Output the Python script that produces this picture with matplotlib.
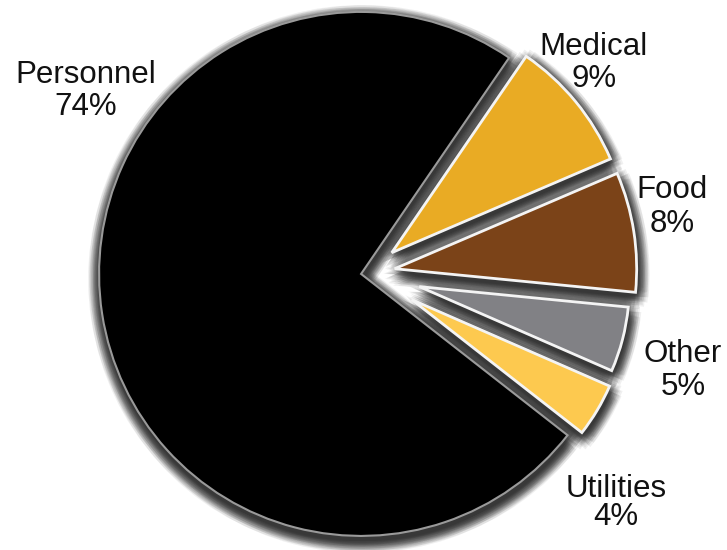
import matplotlib
matplotlib.use("Agg")
import matplotlib.pyplot as plt
import matplotlib.patheffects as pe
import numpy as np

# Budget shares
categories = ["Personnel", "Medical", "Food", "Other", "Utilities"]
shares = [74, 9, 8, 5, 4]
pct_labels = ["74%", "9%", "8%", "5%", "4%"]

colors = ["#000000", "#E9AB24", "#7B4318", "#818185", "#FDC94F"]

W, H = 727, 550
CENTER = (367, 277)
R = 262.0
explode_px = [6, 32, 28, 54, 52]
radius_px = [262, 238, 242, 210, 216]

# label anchors: centre x, baseline of name, baseline of percentage (pixels from top)
label_pos = [(86, 83, 115), (594, 55, 87), (672, 198, 232),
             (683, 362, 395), (616, 497, 525)]

fig = plt.figure(figsize=(W / 100, H / 100), dpi=100)
ax = fig.add_axes([0, 0, 1, 1])


def draw_pie(zorder, **kw):
    wedges, _ = ax.pie(shares, colors=colors, startangle=-38, counterclock=False,
                       explode=explode_px, radius=R,
                       center=CENTER, wedgeprops=kw)
    for w, r in zip(wedges, radius_px):
        w.set_radius(r)
        w.set_zorder(zorder)
    return wedges


# soft drop shadow built from many faint offset copies
px2pt = 72 / 100
shadow_fx = []
for rad in [0, 2, 4, 6, 8, 10, 12]:
    n = 1 if rad == 0 else 14
    for k in range(n):
        th = 2 * np.pi * k / n
        ox = (1 + rad * np.cos(th)) * px2pt
        oy = (-5 + rad * np.sin(th)) * px2pt
        shadow_fx.append(pe.SimplePatchShadow(offset=(ox, oy), shadow_rgbFace="#383838",
                                              alpha=0.075))
shadow = draw_pie(1, linewidth=0)
for w in shadow:
    w.set_path_effects(shadow_fx)

main = draw_pie(2, linewidth=2.0, edgecolor="#f4f4f4")
main[0].set_edgecolor("#9a9a9a")
main[0].set_linewidth(1.5)

font = dict(family=["Liberation Sans", "DejaVu Sans"], fontsize=22.5, color="#111111",
            ha="center", va="baseline")
for name, pct, (x, yb1, yb2) in zip(categories, pct_labels, label_pos):
    ax.text(x, H - yb1, name, **font)
    ax.text(x, H - yb2, pct, **font)

ax.set_xlim(0, W)
ax.set_ylim(0, H)
ax.set_aspect("equal")
ax.axis("off")
fig.savefig("out.png", dpi=100, facecolor="white")
